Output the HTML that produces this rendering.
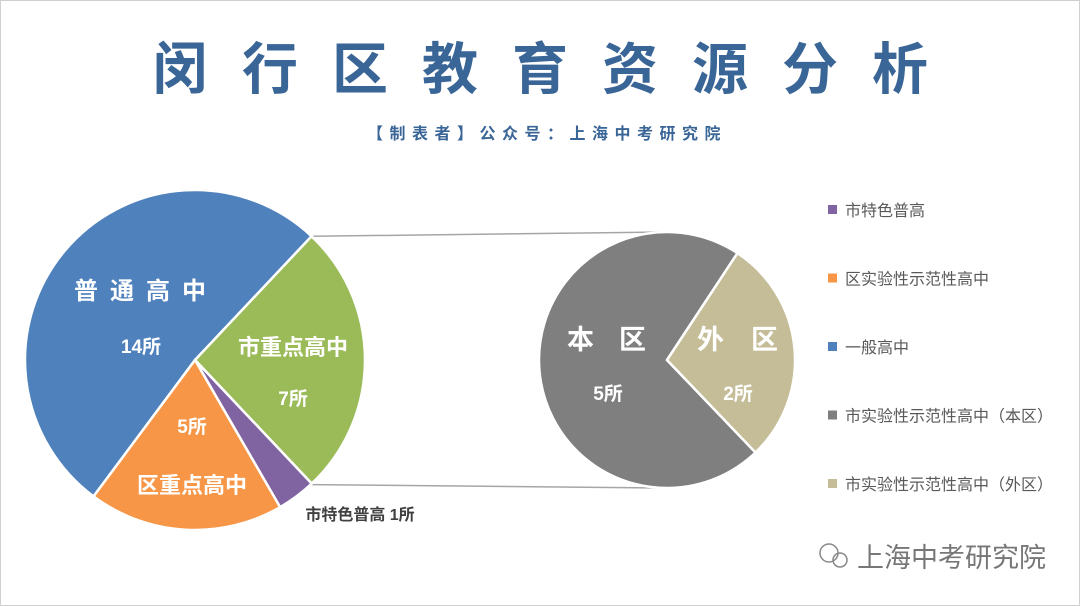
<!DOCTYPE html>
<html><head><meta charset="utf-8"><style>
html,body{margin:0;padding:0;background:#fff}
svg{display:block}
text{font-family:"Liberation Sans","Noto Sans CJK SC",sans-serif}
</style></head><body>
<svg id="chart" width="1080" height="606" viewBox="0 0 1080 606" xmlns="http://www.w3.org/2000/svg">
<rect x="0.5" y="0.5" width="1079" height="605" fill="#fff" stroke="#d0d0d0"/>
<text x="152" y="89" font-size="56" font-weight="bold" fill="#3a6597" letter-spacing="34">闵行区教育资源分析</text>
<text x="367" y="139" font-size="16" font-weight="bold" fill="#3a6597" letter-spacing="6.5">【制表者】公众号：上海中考研究院</text>
<g id="connectors"></g>
<g id="main-pie"></g>
<g id="sub-pie"></g>
<g id="legend"></g>
<g>
<circle cx="829" cy="553" r="9" fill="none" stroke="#888" stroke-width="1.5"/>
<circle cx="840" cy="560" r="7" fill="none" stroke="#888" stroke-width="1.5"/>
<text x="857" y="567" font-size="27" fill="#777">上海中考研究院</text>
</g>
</svg>
<script>
const mainCats=["普通高中","市重点高中","市特色普高","区重点高中"];
const mainVals=[14,7,1,5];
const mainColors=["#4f81bd","#9bbb59","#8064a2","#f79646"];
const subCats=["本区","外区"];
const subVals=[5,2];
const subColors=["#7f7f7f","#c4bd97"];
const legendLabels=["市特色普高","区实验性示范性高中","一般高中","市实验性示范性高中（本区）","市实验性示范性高中（外区）"];
const legendColors=["#8064a2","#f79646","#4f81bd","#7f7f7f","#c4bd97"];
const NS="http://www.w3.org/2000/svg";
function mk(t,a,p){const e=document.createElementNS(NS,t);for(const k in a)e.setAttribute(k,a[k]);p.appendChild(e);return e;}
function pt(cx,cy,r,a){return [cx+r*Math.cos(a*Math.PI/180),cy+r*Math.sin(a*Math.PI/180)];}
function pie(g,cx,cy,r,vals,colors,start,names){
  const tot=vals.reduce((s,v)=>s+v,0);let a=start;const out=[];
  vals.forEach((v,i)=>{const sw=v/tot*360;const p1=pt(cx,cy,r,a),p2=pt(cx,cy,r,a+sw);
    const e=mk('path',{d:`M${cx},${cy}L${p1[0]},${p1[1]}A${r},${r} 0 ${sw>180?1:0} 1 ${p2[0]},${p2[1]}Z`,fill:colors[i],stroke:'#fff','stroke-width':2.5},g);
    
    
    out.push([a,a+sw]);a+=sw;});
  return out;
}
const mg=document.getElementById('main-pie');
const mcx=195,mcy=360,mr=170;
const greenStart=-46.7;
const mtot=mainVals.reduce((s,v)=>s+v,0);
const ms=pie(mg,mcx,mcy,mr,mainVals,mainColors,greenStart-mainVals[0]/mtot*360,mainCats);
const sg=document.getElementById('sub-pie');
const scx=667,scy=360,sr=128;
const stot=subVals.reduce((s,v)=>s+v,0);
const tanStart=-56.6;
const ss=pie(sg,scx,scy,sr,subVals,subColors,tanStart-subVals[0]/stot*360,subCats);
const cg=document.getElementById('connectors');
const c1=pt(mcx,mcy,mr,ms[1][0]),c2=pt(mcx,mcy,mr,ms[1][1]);
let l=mk('line',{x1:c1[0],y1:c1[1],x2:scx,y2:scy-sr,stroke:'#a6a6a6','stroke-width':1.5},cg);

l=mk('line',{x1:c2[0],y1:c2[1]+1,x2:scx,y2:scy+sr,stroke:'#a6a6a6','stroke-width':1.5},cg);

function lbl(g,x,y,txt,size,fill,ls,name,anchor){const t=mk('text',{x:x,y:y,'font-size':size,'font-weight':'bold',fill:fill,'text-anchor':anchor||'middle','letter-spacing':ls||0},g);t.textContent=txt;
  }
lbl(mg,146,299,"普通高中",24,'#fff',12,'label-putong');
lbl(mg,141,353,mainVals[0]+"所",19,'#fff',0,'value-putong');
lbl(mg,293,355,"市重点高中",22,'#fff',0,'label-shizhongdian');
lbl(mg,293,405,mainVals[1]+"所",19,'#fff',0,'value-shizhongdian');
lbl(mg,192,493,"区重点高中",22,'#fff',0,'label-quzhongdian');
lbl(mg,192,433,mainVals[3]+"所",19,'#fff',0,'value-quzhongdian');
lbl(mg,360,520,"市特色普高 "+mainVals[2]+"所",16,'#404040',0,'label-shitese');
lbl(sg,567,349,"本区",27,'#fff',25,'label-benqu','start');
lbl(sg,608,400,subVals[0]+"所",19,'#fff',0,'value-benqu');
lbl(sg,697,349,"外区",27,'#fff',27,'label-waiqu','start');
lbl(sg,738,400,subVals[1]+"所",19,'#fff',0,'value-waiqu');
const lg=document.getElementById('legend');
legendLabels.forEach((s,i)=>{const y=210+i*68.5;
  const r=mk('rect',{x:828,y:y-5,width:9,height:9,fill:legendColors[i]},lg);
  
  const t=mk('text',{x:845,y:y+6,'font-size':16,fill:'#595959'},lg);t.textContent=s;
  });
</script>
</body></html>
